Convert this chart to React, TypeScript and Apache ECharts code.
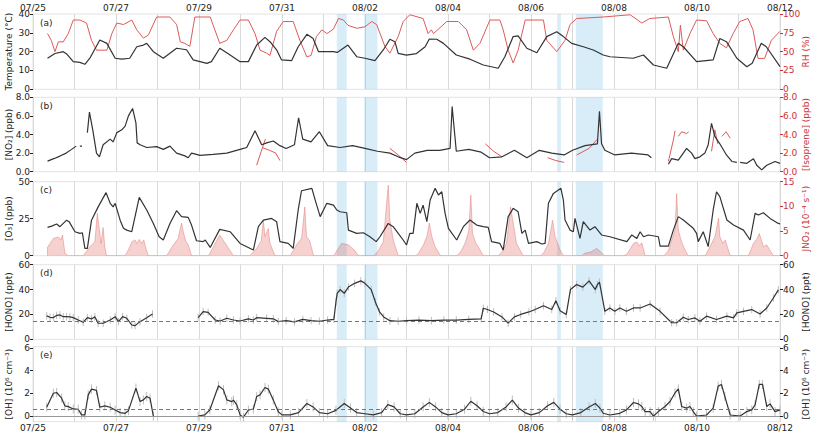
import React, { useEffect, useRef } from 'react';
import * as echarts from 'echarts';

const dateLabels = ['07/25', '07/27', '07/29', '07/31', '08/02', '08/04', '08/06', '08/08', '08/10', '08/12'];
const panelLabels = ['(a)', '(b)', '(c)', '(d)', '(e)'];
const blueBands = [[7.32, 7.56], [7.98, 8.3], [12.63, 12.72], [13.08, 13.73]];

const temperature = [[0.35,16.5],[0.53,19],[0.73,20],[0.81,18.8],[0.97,14.7],[1.13,14.3],[1.25,13.3],[1.37,16.5],[1.61,26.2],[1.78,24.4],[1.98,16.5],[2.14,16],[2.33,16.5],[2.5,22.6],[2.66,23.5],[2.74,24.4],[2.9,20],[3.14,16.5],[3.46,21.8],[3.7,21],[3.86,15.6],[4.19,13.8],[4.3,14.7],[4.5,21.8],[4.75,18.2],[4.99,14.7],[5.19,14.7],[5.39,23.5],[5.59,27.6],[5.71,25.3],[5.87,21],[5.99,15.6],[6.23,15.2],[6.39,22.6],[6.6,29.2],[6.75,27],[6.88,20],[7.24,20],[7.33,19.6],[7.59,23.5],[7.8,17.3],[8.0,16.5],[8.24,15.2],[8.44,20.9],[8.6,26.6],[8.72,25.3],[8.8,19.1],[9.0,18.2],[9.24,19],[9.45,22.6],[9.55,26.7],[9.73,26.6],[9.89,24.4],[10.2,18.2],[10.53,16],[10.85,12.9],[11.21,11.2],[11.37,17.3],[11.57,28],[11.69,28.4],[11.9,21.8],[12.14,19.4],[12.38,28],[12.62,30.6],[12.78,28],[12.98,24.4],[13.26,22.6],[13.5,20.9],[13.74,18.2],[13.9,17.3],[14.46,16.5],[14.71,18.2],[14.95,12.9],[15.27,11.2],[15.55,24.4],[15.67,22.6],[15.99,14.7],[16.39,15.6],[16.55,27],[16.71,25.3],[16.96,16.5],[17.2,12],[17.33,13.8],[17.55,24.4],[17.67,22.6],[18,12]];

const rh = [[0.35,74],[0.44,65],[0.53,50],[0.61,63],[0.73,63],[0.85,74],[0.97,92],[1.13,92],[1.29,88],[1.41,65],[1.53,52],[1.78,52],[1.9,74],[2.02,88],[2.18,86],[2.38,92],[2.5,79],[2.66,68],[2.78,72],[2.98,96],[3.3,96],[3.46,86],[3.55,63],[3.66,61],[3.78,57],[3.9,96],[4.27,96],[4.5,61],[4.67,65],[4.83,79],[4.99,92],[5.19,92],[5.35,74],[5.47,52],[5.63,48],[5.71,45],[5.87,77],[6.03,90],[6.27,90],[6.43,65],[6.6,43],[6.7,45],[6.83,70],[6.96,79],[7.08,74],[7.24,80],[7.36,94],[7.48,92],[7.59,85],[7.8,81],[8.0,83],[8.16,90],[8.28,86],[8.48,57],[8.6,48],[8.8,70],[8.92,90],[9.08,99],[9.4,94],[9.52,74],[9.6,79],[9.65,74],[9.97,90],[10.25,90],[10.45,79],[10.61,52],[10.77,61],[11.01,92],[11.25,92],[11.33,79],[11.45,52],[11.57,35],[11.69,52],[11.86,92],[12.3,92],[12.38,65],[12.62,50],[12.82,65],[12.94,86],[13.1,94],[13.74,96],[14.39,99],[14.67,88],[14.86,94],[15.31,96],[15.43,70],[15.55,50],[15.6,85],[15.67,52],[15.83,74],[15.99,92],[16.23,91],[16.39,74],[16.55,61],[16.71,55],[16.87,74],[17.03,90],[17.23,94],[17.35,79],[17.47,41],[17.63,41],[17.79,65],[18,77]];

const no2 = [[0.35,1.14],[0.5,1.4],[0.65,1.68],[0.8,2.0],[0.93,2.4],[1.04,2.75],null,[1.13,2.75],[1.18,2.75],null,[1.31,4.2],[1.36,6.4],[1.44,4.5],[1.53,2.0],[1.6,1.6],[1.69,2.9],[1.86,3.5],[1.93,3.2],[2.02,4.2],[2.14,4.5],[2.22,4.9],[2.3,6.0],[2.4,6.8],[2.48,5.25],[2.51,3.1],[2.58,2.9],[2.74,2.6],[2.98,2.7],[3.14,2.4],[3.3,2.75],[3.46,2.0],[3.66,1.7],[3.74,1.5],[3.82,2.0],[3.94,1.86],[4.02,1.75],[4.34,1.86],[4.67,2.0],[4.99,2.4],[5.15,2.6],[5.35,4.4],[5.51,2.9],[5.63,3.1],[5.79,3.3],[5.95,2.8],[6.1,2.5],[6.3,2.9],[6.4,5.8],[6.5,3.5],[6.7,3.2],[6.9,4.3],[7.1,2.8],[7.4,2.6],[7.7,2.8],[8.0,2.5],[8.3,2.2],[8.6,2.0],[8.8,1.6],[9.0,1.3],[9.2,2.0],[9.5,2.3],[9.8,2.3],[10.05,2.5],[10.1,7.0],[10.2,2.2],[10.5,2.4],[10.8,2.1],[11.0,1.5],[11.3,1.6],[11.6,2.3],[11.9,1.5],[12.2,2.3],[12.5,2.0],[12.8,1.8],[13.0,2.3],[13.3,2.8],[13.6,3.0],[13.65,6.5],[13.7,3.0],[13.78,2.3],[14.02,1.8],[14.42,2.0],[14.82,1.8],[14.9,1.5],null,[15.31,0.8],[15.39,1.4],[15.55,1.25],[15.67,2.0],[15.75,2.5],[15.87,2.0],[15.95,1.4],[16.07,1.6],[16.19,2.0],[16.27,2.9],[16.35,5.2],[16.43,3.8],[16.55,3.0],[16.71,1.8],[16.84,1.1],[16.96,1.0],null,[17.04,1.0],[17.2,0.9],[17.36,1.4],[17.44,0.7],[17.56,0.2],[17.68,0.7],[17.88,1.1],[18,0.9]];

const isoprene = [[5.39,0.7],[5.5,2.2],[5.6,3.5],null,[5.52,2.6],[5.7,2.3],[5.85,2.0],[5.95,1.2],null,[8.6,2.5],[8.8,1.8],[9.0,1.0],null,[10.9,3.0],[11.1,2.2],[11.3,1.6],null,[12.4,1.5],[12.6,1.2],[12.8,1.0],null,[13.1,1.8],[13.4,2.5],[13.6,3.5],null,[15.31,1.1],[15.43,3.4],[15.47,4.4],null,[15.55,3.8],[15.63,4.3],[15.75,4.1],[15.8,4.3],null,[16.35,2.2],[16.43,4.5],[16.5,3.0],null,[16.6,3.8],[16.7,4.3],[16.8,3.6]];

const o3 = [[0.35,19.1],[0.45,20],[0.57,21.4],[0.65,19.6],[0.81,24],[0.87,23],[1.01,16.2],[1.13,15.1],[1.19,15.5],[1.25,5],[1.31,5],[1.41,24],[1.57,33],[1.76,42.6],[1.86,35.4],[1.93,33],[1.98,35.4],[2.1,24],[2.18,18.5],[2.26,17.3],[2.38,16.2],[2.56,39.4],[2.74,30.9],[2.9,21.8],[3.04,12.8],[3.14,10.6],[3.3,21.8],[3.46,30.4],[3.58,26.4],[3.74,25.9],[3.82,20.7],[3.94,10.1],[4.1,9.5],[4.15,10.6],[4.27,5.6],[4.5,17.8],[4.75,16.2],[4.99,8.3],[5.31,3.8],[5.43,19.6],[5.55,24],[5.75,25.2],[5.87,23],[5.95,9.5],[6.15,8.3],[6.27,5],[6.39,30.9],[6.47,43.9],[6.72,45.5],[6.8,37.6],[6.92,26.4],[7.08,35.4],[7.24,34.2],[7.32,30.9],[7.4,29.7],[7.56,29],[7.6,17.3],[7.8,15.1],[7.96,15.5],[8.12,12.8],[8.27,9.5],[8.36,12.8],[8.56,21.8],[8.68,19.6],[8.8,15.1],[8.92,10.6],[9.0,7.2],[9.08,15.1],[9.16,15.1],[9.25,35.4],[9.33,28.6],[9.4,34.2],[9.49,23],[9.57,37.6],[9.69,45.5],[9.77,41],[9.85,43.2],[9.93,28.6],[10.01,18.5],[10.21,10.6],[10.37,19.6],[10.53,24.1],[10.69,20.7],[10.85,19.6],[10.97,19.1],[11.05,9.5],[11.25,8.3],[11.33,3.8],[11.45,26.4],[11.57,32],[11.69,29.7],[11.78,15.1],[11.86,17.3],[11.94,8.3],[12.14,9.5],[12.26,7.9],[12.34,8.3],[12.42,35.4],[12.54,42.1],[12.72,45.5],[12.78,37.6],[12.82,24.1],[12.94,17.3],[13.02,16.2],[13.06,25.2],[13.18,11.7],[13.26,23],[13.42,17.3],[13.54,19.6],[13.7,14],[13.9,12.8],[14.31,9.5],[14.43,14],[14.55,11.7],[14.63,16.2],[14.71,12.8],[14.83,14],[15.07,12.8],[15.11,6.5],[15.31,6.5],[15.43,17.3],[15.55,26.4],[15.67,24.1],[15.91,18.5],[15.99,15.1],[16.03,9.5],[16.15,16.2],[16.27,6.1],[16.39,30.9],[16.47,43.2],[16.55,39.9],[16.72,24.1],[16.88,20.7],[17.12,17.3],[17.28,10.6],[17.4,28.6],[17.48,27.5],[17.6,29],[17.76,25.2],[17.96,21.8],[18,21.5]];

const jno2 = [[0.35,0],[0.35,1.7],[0.49,3.5],[0.61,3.8],[0.67,3.2],[0.71,4.2],[0.77,0.5],[0.85,0],[1.21,0],[1.3,1.0],[1.37,1.8],[1.49,2.8],[1.55,8.6],[1.59,5.9],[1.64,2.5],[1.69,5.7],[1.73,1.8],[1.77,0],[2.22,0],[2.3,1.2],[2.38,2.8],[2.46,3.2],[2.5,2.5],[2.56,3.3],[2.62,2.5],[2.67,3.2],[2.72,1.5],[2.78,0],[3.22,0],[3.38,2.2],[3.5,3.5],[3.54,5.2],[3.58,6.6],[3.62,4.9],[3.68,3.0],[3.74,2.2],[3.82,0],[4.23,0],[4.5,4.2],[4.83,0],[5.23,0],[5.39,1.5],[5.5,3.0],[5.55,7.2],[5.59,3.9],[5.67,5.5],[5.71,2.5],[5.83,0],[6.2,0],[6.35,2.2],[6.47,3.5],[6.55,9.9],[6.59,3.9],[6.67,3.0],[6.76,0],[7.25,0],[7.32,1.0],[7.44,2.5],[7.6,2.2],[7.76,1.0],[7.84,0],[8.22,0],[8.32,1.0],[8.44,2.8],[8.52,10.6],[8.56,14.3],[8.6,7.2],[8.68,3.2],[8.8,0],[9.22,0],[9.29,0.5],[9.41,2.2],[9.49,3.9],[9.55,6.6],[9.61,3.9],[9.69,1.8],[9.82,0],[10.22,0],[10.32,1.0],[10.41,2.5],[10.5,5],[10.53,9.3],[10.55,12.3],[10.59,4.5],[10.67,2.5],[10.73,1.8],[10.85,0],[11.22,0],[11.3,0.8],[11.41,2.5],[11.51,9.9],[11.56,7.2],[11.65,2.5],[11.81,0],[12.24,0],[12.32,0.8],[12.42,2.5],[12.52,7.2],[12.58,3.9],[12.7,1.2],[12.78,0],[13.22,0],[13.3,0.5],[13.45,0.8],[13.58,1.5],[13.65,1.0],[13.78,0],[14.24,0],[14.31,0.3],[14.42,1.8],[14.47,2.5],[14.55,2.8],[14.61,2.0],[14.67,2.6],[14.75,0],[15.2,0],[15.31,1.0],[15.39,3.2],[15.47,5.2],[15.51,12.6],[15.55,5.2],[15.63,2.8],[15.72,1.0],[15.79,0],[16.2,0],[16.31,1.8],[16.43,3.8],[16.52,7.6],[16.55,3.9],[16.62,2.5],[16.68,3.2],[16.8,0],[17.24,0],[17.36,2.5],[17.45,3.5],[17.5,4.5],[17.56,3.0],[17.6,1.8],[17.68,2.2],[17.84,0],[18,0]];

const hono = [[0.33,18.8],[0.41,17.7],[0.49,17.5],[0.57,19.2],[0.65,19.6],[0.73,18.2],[0.81,18.2],[0.89,18.0],[0.97,17.4],[1.09,15.5],[1.21,13.7],[1.31,17.4],[1.41,16.4],[1.49,18.2],[1.57,12.9],[1.69,12.9],[1.86,15.5],[1.98,18.2],[2.06,14.2],[2.16,18.2],[2.26,16.9],[2.38,11.5],[2.46,11],[2.58,14.2],[2.74,17.4],[2.88,20.4],null,[3.98,17.4],[4.1,22.3],[4.22,21.7],[4.39,15.5],[4.51,14.7],[4.67,16.9],[4.83,15.5],[4.99,14.7],[5.19,16.4],[5.31,15.5],[5.39,17.4],[5.63,16.9],[5.79,16.5],[5.91,14.2],[6.1,15],[6.3,14],[6.5,16],[6.7,15],[6.9,14.5],[7.1,15.5],[7.25,16],[7.3,30],[7.33,37],[7.4,40],[7.5,37],[7.6,42],[7.75,45],[7.9,47],[8.0,45],[8.15,40],[8.25,30],[8.35,22],[8.45,18],[8.6,15],[8.8,14.5],[9.0,15],[9.3,15.5],[9.6,15],[9.9,15.5],[10.2,15.5],[10.5,16],[10.8,16.5],[10.85,25],[10.95,24],[11.1,22],[11.3,18],[11.45,13],[11.6,18],[11.75,20],[11.95,22],[12.1,24],[12.3,27],[12.5,24],[12.6,31],[12.7,23],[12.85,20],[12.95,40],[13.1,44],[13.25,42],[13.4,47],[13.55,40],[13.6,44],[13.65,46],[13.78,22.5],[13.9,25.2],[14.02,22.5],[14.14,25.2],[14.3,22.5],[14.47,25.2],[14.63,25.2],[14.87,28.4],[15.11,22.5],[15.39,13.3],[15.51,13.3],[15.67,17.8],[15.79,15.9],[15.95,17.2],[16.07,14.6],[16.23,18.6],[16.47,15.9],[16.72,18.6],[16.88,17.2],[16.96,21.2],[17.12,22.5],[17.32,23.9],[17.52,20.4],[17.68,25.2],[17.84,33.2],[17.96,39.8]];

const oh = [[0.33,0.77],[0.49,2.0],[0.57,2.07],[0.69,1.57],[0.77,0.89],[0.85,0.83],[0.97,0.62],[1.09,0.59],[1.17,0.1],[1.25,0.1],[1.33,1.86],[1.41,2.37],[1.53,2.25],[1.61,0.77],[1.73,0.89],[1.86,0.77],[1.98,0.53],[2.1,0.3],[2.22,0.24],[2.3,0.47],[2.48,2.46],[2.58,1.27],[2.66,1.42],[2.74,1.72],[2.82,1.57],[2.9,0],null,[3.98,0],[4.14,0.1],[4.26,0.53],[4.47,2.66],[4.59,2.3],[4.67,1.42],[4.79,1.27],[4.83,1.4],[4.91,0.98],[4.99,0.1],[5.07,-0.1],[5.19,0.53],[5.31,0.6],[5.39,1.72],[5.47,1.86],[5.59,2.51],[5.67,2.37],[5.79,1.42],[5.91,0.38],[6.0,0.1],[6.2,0.1],[6.4,0.3],[6.6,1.1],[6.75,0.8],[6.9,0.3],[7.1,0.2],[7.3,0.5],[7.5,1.1],[7.65,0.7],[7.8,0.3],[8.0,0.2],[8.2,0.1],[8.4,0.3],[8.55,1.0],[8.7,0.8],[8.85,0.2],[9.0,0.1],[9.2,0.2],[9.4,0.8],[9.55,1.2],[9.7,0.8],[9.85,0.3],[10.0,0.1],[10.2,0.2],[10.4,0.6],[10.55,1.3],[10.7,0.9],[10.85,0.4],[11.0,0.2],[11.2,0.3],[11.4,0.8],[11.55,1.4],[11.7,0.7],[11.85,0.3],[12.0,0.1],[12.2,0.3],[12.4,0.9],[12.55,1.2],[12.7,0.6],[12.85,0.2],[13.0,0.1],[13.2,0.3],[13.4,0.8],[13.55,1.1],[13.66,0.69],[13.74,0.24],[13.9,0.09],[14.14,0.24],[14.3,0.54],[14.47,1.19],[14.59,1.07],[14.67,0.84],[14.75,0.39],[14.87,0.39],[14.95,0],[15.07,0.39],[15.23,0.84],[15.35,1.28],[15.47,2.03],[15.55,2.39],[15.63,0.84],[15.75,0.69],[15.83,0.84],[15.91,0.39],[15.99,0],[16.23,0.09],[16.39,0.69],[16.51,2.63],[16.59,2.78],[16.67,1.73],[16.8,0.09],[17.04,0],[17.2,0.39],[17.32,0.54],[17.4,0.99],[17.5,2.78],[17.58,2.78],[17.68,0.84],[17.76,1.07],[17.88,0.39],[18,0.54]];

const honoErr = 3;
const ohErr = 0.4;
const honoBaseline = 14.5;
const ohBaseline = 0.6;

const BLACK = '#333333';
const RED = '#dd5a5a';
const RED_TXT = '#cc3333';

function segments(arr: any[]) {
  const out: number[][][] = [];
  let cur: number[][] = [];
  arr.forEach((p) => {
    if (p === null) { if (cur.length) out.push(cur); cur = []; }
    else cur.push(p);
  });
  if (cur.length) out.push(cur);
  return out;
}

const G = [
  { top: 14, h: 75.3 },
  { top: 97.3, h: 74.4 },
  { top: 181.7, h: 74 },
  { top: 264.7, h: 74.6 },
  { top: 346.7, h: 75 },
];

export default function App() {
  const ref = useRef<HTMLDivElement>(null);
  useEffect(() => {
    if (!ref.current) return;
    const chart = echarts.init(ref.current, null, { renderer: 'svg' });
    const font = 'DejaVu Sans';
    const makeY = (side: string, gi: number, min: number, max: number, interval: number | null, name: string, color: string, nameColor: string, fmt?: (v: number) => string, custom?: number[]) => ({
      type: 'value', gridIndex: gi, position: side, min, max,
      ...(interval ? { interval } : {}),
      name, nameLocation: 'middle', nameRotate: 90, nameGap: side === 'left' ? 20 : 21,
      nameMoveOverlap: false,
      nameTextStyle: { fontSize: 9, color: nameColor, fontFamily: font },
      axisLine: { show: false },
      axisTick: { show: true, length: 3, lineStyle: { color }, ...(custom ? { customValues: custom } : {}) },
      axisLabel: { fontSize: 9, color, margin: 3, fontFamily: font, ...(fmt ? { formatter: fmt } : {}), ...(custom ? { customValues: custom } : {}) },
      splitLine: { show: false },
    });
    const f1 = (v: number) => v.toFixed(1);
    const K = '#222';

    const yAxis = [
      makeY('left', 0, 0, 40, 10, 'Temperature (°C)', K, K),
      makeY('right', 0, 0, 100, 25, 'RH (%)', RED_TXT, RED_TXT),
      makeY('left', 1, 0, 8, 2, '[NO₂] (ppb)', K, K, f1),
      makeY('right', 1, 0, 8, 2, '[Isoprene] (ppb)', RED_TXT, RED_TXT, f1),
      makeY('left', 2, 0, 50, 25, '[O₃] (ppb)', K, K),
      makeY('right', 2, 0, 15, 5, 'JNO₂ (10⁻⁴ s⁻¹)', RED_TXT, RED_TXT),
      makeY('left', 3, 0, 60, 20, '[HONO] (ppt)', K, K),
      makeY('right', 3, 0, 60, 20, '[HONO] (ppt)', K, K),
      makeY('left', 4, -0.5, 6.1, null, '[OH] (10⁶ cm⁻³)', K, K, undefined, [0, 2, 4, 6]),
      makeY('right', 4, -0.5, 6.1, null, '[OH] (10⁶ cm⁻³)', K, K, undefined, [0, 2, 4, 6]),
    ];

    const xAxis = G.map((g, i) => ({
      type: 'value', gridIndex: i, min: 0, max: 18, interval: 1,
      position: i === 0 ? 'top' : 'bottom',
      axisLine: { show: false },
      axisTick: { show: false },
      axisLabel: {
        show: i === 0 || i === 4, fontSize: 9, color: K, margin: 2, fontFamily: font,
        formatter: (v: number) => (Math.round(v) % 2 === 0 ? dateLabels[Math.round(v) / 2] : ''),
      },
      splitLine: { show: true, lineStyle: { color: '#d9d9d9', width: 1 } },
    }));

    const series: any[] = [];
    G.forEach((g, i) => {
      const s: any = {
        type: 'line', xAxisIndex: i, yAxisIndex: i * 2, data: [], silent: true,
        markArea: {
          silent: true,
          itemStyle: { color: 'rgba(110,190,230,0.27)' },
          data: blueBands.map((b) => [{ xAxis: b[0] }, { xAxis: b[1] }]),
        },
      };
      if (i === 3 || i === 4) {
        const lines: any[] = [{ yAxis: i === 3 ? honoBaseline : ohBaseline, lineStyle: { type: [4, 3], color: '#777', width: 1 } }];
        if (i === 4) lines.push({ yAxis: 0, lineStyle: { type: 'solid', color: '#999', width: 1 } });
        s.markLine = { silent: true, symbol: 'none', label: { show: false }, data: lines };
      }
      series.push(s);
    });

    const lineSeries = (data: any[], xi: number, yi: number, color: string, width: number) =>
      segments(data).map((seg) => ({
        type: 'line', xAxisIndex: xi, yAxisIndex: yi, data: seg, showSymbol: false, symbol: 'none',
        lineStyle: { color, width }, silent: true,
      }));

    const errBars = (data: any[], err: number, xi: number, yi: number) => ({
      type: 'custom', xAxisIndex: xi, yAxisIndex: yi, silent: true,
      data: data.filter((p) => p !== null).map((p: number[]) => [p[0], p[1], err]),
      encode: { x: 0, y: 1 },
      renderItem: (params: any, api: any) => {
        const x = api.value(0), y = api.value(1), e = api.value(2);
        const a = api.coord([x, y - e]);
        const b = api.coord([x, y + e]);
        return { type: 'line', shape: { x1: a[0], y1: a[1], x2: b[0], y2: b[1] }, style: { stroke: '#bdbdbd', lineWidth: 1 } };
      },
    });

    series.push(...lineSeries(rh, 0, 1, RED, 1));
    series.push(...lineSeries(temperature, 0, 0, BLACK, 1.2));
    series.push(...lineSeries(isoprene, 1, 3, RED, 1));
    series.push(...lineSeries(no2, 1, 2, BLACK, 1.2));
    series.push({
      type: 'line', xAxisIndex: 2, yAxisIndex: 5, data: jno2, showSymbol: false, symbol: 'none',
      lineStyle: { color: 'rgba(217,83,79,0.35)', width: 1 }, areaStyle: { color: 'rgba(217,83,79,0.38)' }, silent: true,
    });
    series.push(...lineSeries(o3, 2, 4, BLACK, 1.2));
    series.push(errBars(hono, honoErr, 3, 6));
    series.push(...lineSeries(hono, 3, 6, BLACK, 1.2));
    series.push(errBars(oh, ohErr, 4, 8));
    series.push(...lineSeries(oh, 4, 8, BLACK, 1.2));

    chart.setOption({
      animation: false,
      backgroundColor: '#ffffff',
      textStyle: { fontFamily: font },
      grid: G.map((g) => ({
        left: 33, right: 33, top: g.top, height: g.h, show: true,
        borderColor: '#e3e3e3', borderWidth: 1, backgroundColor: 'transparent',
        containLabel: false, outerBoundsMode: 'none',
      })),
      xAxis,
      yAxis,
      series,
      graphic: G.map((g, i) => ({
        type: 'text', left: 40, top: g.top + 4, silent: true,
        style: { text: panelLabels[i], fontSize: 9, fill: K, fontFamily: font },
      })),
    });
    return () => chart.dispose();
  }, []);
  return <div ref={ref} style={{ position: 'fixed', left: 0, top: 0, width: 813, height: 434 }} />;
}
